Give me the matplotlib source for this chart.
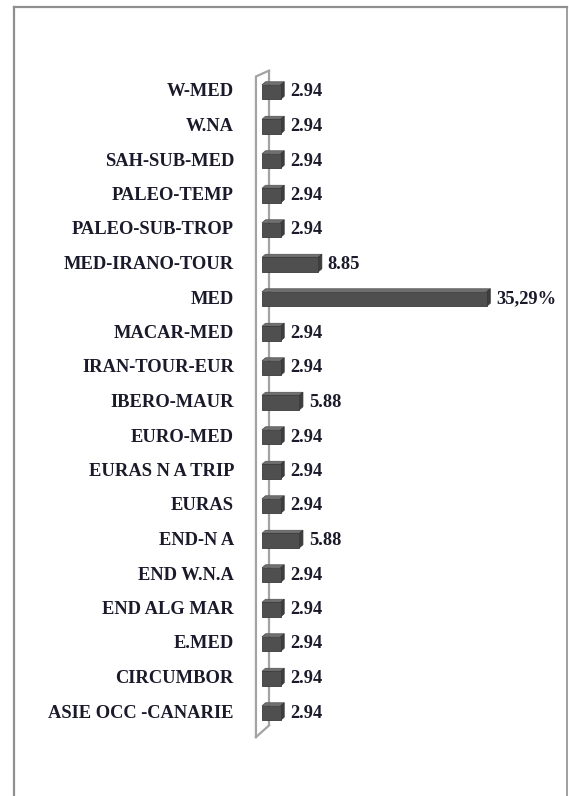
import numpy as np
import matplotlib
matplotlib.use('Agg')
import matplotlib.pyplot as plt
from matplotlib.patches import Polygon
from matplotlib.lines import Line2D

categories = ['W-MED', 'W.NA', 'SAH-SUB-MED', 'PALEO-TEMP', 'PALEO-SUB-TROP',
              'MED-IRANO-TOUR', 'MED', 'MACAR-MED', 'IRAN-TOUR-EUR', 'IBERO-MAUR',
              'EURO-MED', 'EURAS N A TRIP', 'EURAS', 'END-N A', 'END W.N.A',
              'END ALG MAR', 'E.MED', 'CIRCUMBOR', 'ASIE OCC -CANARIE']
values = [2.94, 2.94, 2.94, 2.94, 2.94, 8.85, 35.29, 2.94, 2.94, 5.88,
          2.94, 2.94, 2.94, 5.88, 2.94, 2.94, 2.94, 2.94, 2.94]
value_labels = ['2.94', '2.94', '2.94', '2.94', '2.94', '8.85', '35,29%', '2.94', '2.94', '5.88',
                '2.94', '2.94', '2.94', '5.88', '2.94', '2.94', '2.94', '2.94', '2.94']

W, H = 569, 796
px_per_unit = 6.37     # horizontal pixels per percent
px_per_row = 34.5      # vertical pixels per category
x0_px, y0_px = 262, 92  # pixel position of value 0 / first category

fig = plt.figure(figsize=(W / 100, H / 100), dpi=100)
ax = fig.add_axes([0, 0, 1, 1])
ax.set_xlim(-x0_px / px_per_unit, (W - x0_px) / px_per_unit)
ax.set_ylim((H - y0_px) / px_per_row, -y0_px / px_per_row)
ax.axis('off')

font = dict(family='Liberation Serif', weight='bold', size=13.3)
n = len(categories)
y = np.arange(n)
h = 0.42
dx = 3.5 / px_per_unit   # 3d depth
dy = 3.0 / px_per_row

# back wall
wall_c = '#a3a3a3'
bx, fx = 1.1, -0.95
ax.plot([bx, bx], [-0.62, n - 1 + 0.36], color=wall_c, lw=1.6, zorder=1)
ax.plot([fx, fx, bx], [n - 1 + 0.7, -0.45, -0.62], color=wall_c, lw=1.6, zorder=1)
ax.plot([fx, bx], [n - 1 + 0.7, n - 1 + 0.36], color=wall_c, lw=1.6, zorder=1)

ax.barh(y, values, height=h, color='#4f4f4f', edgecolor='#3a3a3a', lw=0.6, zorder=3)
for yi, v in zip(y, values):
    top = [(0, yi - h / 2), (dx, yi - h / 2 - dy), (v + dx, yi - h / 2 - dy), (v, yi - h / 2)]
    end = [(v, yi - h / 2), (v + dx, yi - h / 2 - dy), (v + dx, yi + h / 2 - dy), (v, yi + h / 2)]
    ax.add_patch(Polygon(top, closed=True, fc='#707070', ec='#505050', lw=0.5, zorder=2))
    ax.add_patch(Polygon(end, closed=True, fc='#3e3e3e', ec='#333333', lw=0.5, zorder=2))

for yi, cat, v, lab in zip(y, categories, values, value_labels):
    ax.text(-28 / px_per_unit, yi, cat, ha='right', va='center', color='#1a1a2a', **font)
    ax.annotate(lab, (v + dx, yi), xytext=(6, 0), textcoords='offset pixels',
                ha='left', va='center', color='#1a1a2a', **font)

# outer frame
fc = '#8f8f8f'
L, T, R = 13.5 / W, 1 - 6.5 / H, 566.5 / W
fig.add_artist(Line2D([L, L], [0, T], color=fc, lw=1.6, transform=fig.transFigure))
fig.add_artist(Line2D([L, R], [T, T], color=fc, lw=1.6, transform=fig.transFigure))
fig.add_artist(Line2D([R, R], [0, T], color=fc, lw=1.2, transform=fig.transFigure))

fig.savefig('out.png', dpi=100, facecolor='white')
